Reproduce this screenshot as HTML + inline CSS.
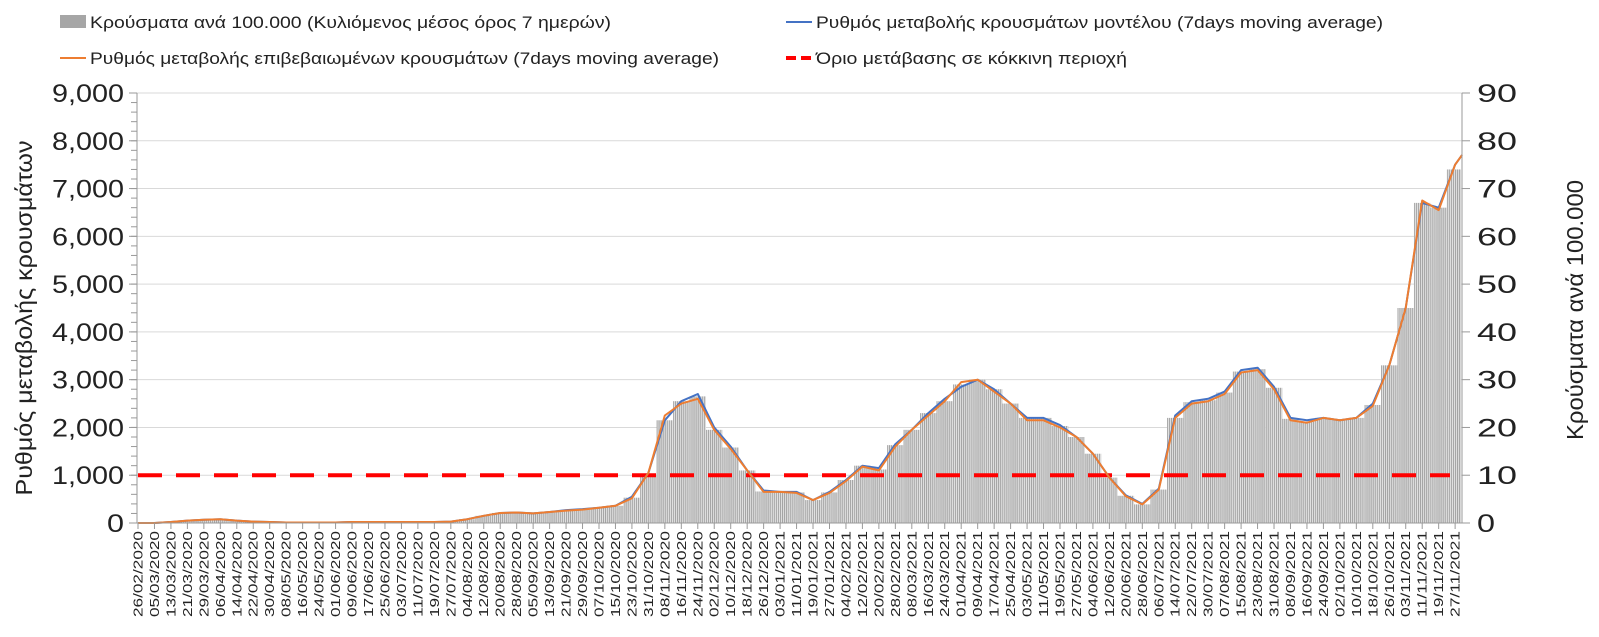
<!DOCTYPE html>
<html><head><meta charset="utf-8"><style>
body{margin:0;background:#fff;}
svg{display:block;font-family:"Liberation Sans","DejaVu Sans",sans-serif;}
</style></head><body>
<svg id="chart" width="1599" height="637" viewBox="0 0 1599 637" xmlns="http://www.w3.org/2000/svg">
<defs>
<pattern id="stripes" width="2.058" height="4" patternUnits="userSpaceOnUse">
<rect x="0" y="0" width="2.058" height="4" fill="#e4e4e4"/>
<rect x="0" y="0" width="1" height="4" fill="#a0a0a0"/>
</pattern>
</defs>
<g id="legend" font-size="17" fill="#222">
<g><rect x="60" y="15" width="26" height="13" fill="#a6a6a6"/><text x="90" y="28" textLength="521" lengthAdjust="spacingAndGlyphs">Κρούσματα ανά 100.000  (Κυλιόμενος μέσος όρος 7 ημερών)</text></g>
<g><line x1="786" y1="22" x2="812" y2="22" stroke="#4472c4" stroke-width="2"/><text x="816" y="28" textLength="567" lengthAdjust="spacingAndGlyphs">Ρυθμός μεταβολής κρουσμάτων μοντέλου (7days moving average)</text></g>
<g><line x1="60" y1="58" x2="86" y2="58" stroke="#ed7d31" stroke-width="2"/><text x="90" y="64" textLength="629" lengthAdjust="spacingAndGlyphs">Ρυθμός μεταβολής επιβεβαιωμένων κρουσμάτων (7days moving average)</text></g>
<g><line x1="786" y1="58" x2="812" y2="58" stroke="#ff0000" stroke-width="4" stroke-dasharray="10,5"/><text x="816" y="64" textLength="311" lengthAdjust="spacingAndGlyphs">Όριο μετάβασης σε κόκκινη περιοχή</text></g>
</g>
<g id="grid"></g>
<g id="bars"></g>
<g id="lines"></g>
<g id="axes"></g>
<text transform="translate(32,318) rotate(-90)" text-anchor="middle" font-size="23" fill="#222" textLength="355" lengthAdjust="spacingAndGlyphs">Ρυθμός μεταβολής κρουσμάτων</text>
<text transform="translate(1583,310) rotate(-90)" text-anchor="middle" font-size="23" fill="#222" textLength="260" lengthAdjust="spacingAndGlyphs">Κρούσματα ανά 100.000</text>
</svg>
<script>
// Data sampled every 8 days starting 26/02/2020
const stepDays = 8;
const startDate = [2020, 1, 26];
const modelRate = [0,0,20,50,70,80,50,30,20,10,10,10,10,20,20,20,20,20,20,30,80,150,210,220,200,230,270,290,320,360,550,1050,2150,2550,2700,2000,1600,1100,680,650,650,480,650,900,1200,1150,1650,1950,2300,2600,2850,3000,2800,2500,2200,2200,2050,1800,1450,950,580,400,720,2250,2550,2600,2750,3200,3250,2850,2200,2150,2200,2150,2200,2500,3300,4500,6700,6600,7500,7700];
const confirmedRate = [0,0,20,50,70,80,50,30,20,10,10,10,10,20,20,20,20,20,20,30,80,150,210,220,200,230,260,280,320,360,520,1050,2250,2500,2600,1950,1550,1100,650,650,630,480,630,880,1180,1100,1600,1950,2250,2550,2950,3000,2750,2500,2150,2150,2000,1800,1450,950,560,390,700,2200,2500,2550,2700,3150,3200,2800,2150,2100,2200,2150,2200,2450,3300,4500,6750,6550,7500,7700];
const casesPer100k = [0,0,0.2,0.5,0.7,0.8,0.5,0.3,0.2,0.1,0.1,0.1,0.1,0.2,0.2,0.2,0.2,0.2,0.2,0.3,0.8,1.5,2.1,2.2,2.0,2.3,2.7,2.9,3.2,3.6,5.3,10,21.5,25.5,26.5,19.5,15.8,11,6.6,6.5,6.4,4.8,6.4,9,12,11.2,16.3,19.5,23,25.5,29,30,28,25,22,22,20.3,18,14.5,9.5,5.7,3.9,7,22,25.3,25.7,27.3,31.7,32.2,28.3,21.8,21.2,22,21.5,22,24.7,33,45,67,66,74,76];
const leftTicks = [0,1000,2000,3000,4000,5000,6000,7000,8000,9000];
const rightTicks = [0,10,20,30,40,50,60,70,80,90];
const threshold = 1000;

const NS = "http://www.w3.org/2000/svg";
const X0 = 138, PXDAY = 2.058, Y0 = 523, YTOP = 93, LMAX = 9000, RMAX = 90, XR = 1462;
function xDay(d){ return X0 + d*PXDAY; }
function yL(v){ return Y0 - v/LMAX*(Y0-YTOP); }
function yR(v){ return Y0 - v/RMAX*(Y0-YTOP); }
function mk(tag, attrs, parent){ const e=document.createElementNS(NS,tag); for(const k in attrs) e.setAttribute(k,attrs[k]); parent.appendChild(e); return e; }
const grid=document.getElementById('grid'), bars=document.getElementById('bars'), lines=document.getElementById('lines'), axes=document.getElementById('axes');

leftTicks.forEach(t=>{
  if(t>0){ const g=mk('line',{x1:X0-1,x2:XR,y1:yL(t),y2:yL(t),stroke:'#d9d9d9','stroke-width':1},grid);
  
   }
  const s=t.toLocaleString('en-US');
  const tx=mk('text',{x:124,y:yL(t)+9,'text-anchor':'end','font-size':25,fill:'#222',textLength:(s.length===1?17:72),lengthAdjust:'spacingAndGlyphs'},axes);
  tx.textContent=s;
  
  
  mk('line',{x1:129,x2:137,y1:yL(t),y2:yL(t),stroke:'#999'},axes);
});
for(let v=0; v<LMAX; v+=200){ mk('line',{x1:131,x2:137,y1:yL(v),y2:yL(v),stroke:'#999'},axes); }
rightTicks.forEach(t=>{
  const s=String(t);
  const tx=mk('text',{x:1477,y:yR(t)+9,'font-size':25,fill:'#222',textLength:(s.length===1?18:40),lengthAdjust:'spacingAndGlyphs'},axes);
  tx.textContent=s;
  
  
  mk('line',{x1:XR,x2:XR+8,y1:yR(t),y2:yR(t),stroke:'#999'},axes);
});
const la=mk('line',{x1:137,x2:137,y1:YTOP,y2:Y0,stroke:'#999'},axes);


const ra=mk('line',{x1:XR,x2:XR,y1:YTOP,y2:Y0,stroke:'#999'},axes);


const xa=mk('line',{x1:137,x2:XR,y1:Y0,y2:Y0,stroke:'#999'},axes);



// bars
casesPer100k.forEach((v,i)=>{
  const x=xDay(i*stepDays-stepDays/2);
  const xs=Math.max(X0,x), xe=Math.min(XR-1,xDay(i*stepDays+stepDays/2));
  if(xe<=xs) return;
  const b=mk('rect',{x:xs,y:yR(v),width:xe-xs,height:Y0-yR(v),fill:'url(#stripes)'},bars);
  
  
});

// threshold line
const th=mk('line',{x1:X0,x2:1450,y1:yL(threshold),y2:yL(threshold),stroke:'#ff0000','stroke-width':4,'stroke-dasharray':'24,14'},lines);



function path(arr,color,name){
  const d=arr.map((v,i)=>(i?'L':'M')+Math.min(xDay(i*stepDays),XR).toFixed(1)+','+yL(v).toFixed(1)).join(' ');
  const p=mk('path',{d:d,fill:'none',stroke:color,'stroke-width':2,'stroke-linejoin':'round'},lines);
  
  
}
path(modelRate,'#4472c4','model-rate-line');
path(confirmedRate,'#ed7d31','confirmed-rate-line');

// x labels
const sd=new Date(Date.UTC(startDate[0],startDate[1],startDate[2]));
for(let i=0;i<81;i++){
  const dt=new Date(sd.getTime()+i*stepDays*86400000);
  const lbl=String(dt.getUTCDate()).padStart(2,'0')+'/'+String(dt.getUTCMonth()+1).padStart(2,'0')+'/'+dt.getUTCFullYear();
  const x=xDay(i*stepDays);
  mk('line',{x1:x,x2:x,y1:Y0,y2:Y0+6,stroke:'#999'},axes);
  const t=mk('text',{transform:`translate(${x+4.5},${Y0+8}) rotate(-90)`,'text-anchor':'end','font-size':13,fill:'#222',textLength:86,lengthAdjust:'spacingAndGlyphs'},axes);
  t.textContent=lbl;
  
  
}
</script>
</body></html>
